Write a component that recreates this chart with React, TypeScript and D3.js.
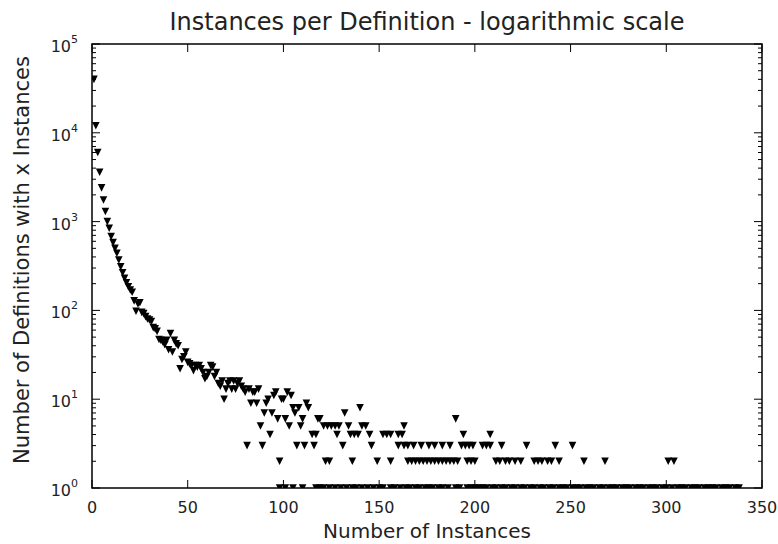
import React from "react";
import * as d3 from "d3";

// ---- data: number of instances (x) and number of definitions with x instances (y)
const instances: number[] = [
  1, 2, 3, 4, 5, 6, 7, 8, 9, 10, 11, 12, 13, 14, 15, 16, 17, 18, 19, 20,
  21, 22, 23, 24, 25, 26, 27, 28, 29, 30, 31, 32, 33, 34, 35, 36, 37, 38, 39, 40,
  41, 42, 43, 44, 45, 46, 47, 48, 49, 50, 51, 52, 53, 54, 55, 56, 57, 58, 59, 60,
  61, 62, 63, 64, 65, 66, 67, 68, 69, 70, 71, 72, 73, 74, 75, 76, 77, 78, 79, 80,
  81, 82, 83, 84, 85, 86, 87, 88, 89, 90, 91, 92, 93, 94, 95, 96, 97, 98, 99, 100,
  101, 102, 103, 104, 105, 106, 107, 108, 109, 110, 111, 112, 113, 115, 116, 117, 118, 119, 121, 122,
  123, 124, 125, 127, 129, 128, 131, 132, 134, 135, 136, 137, 139, 140, 141, 143, 145, 146, 149, 152,
  154, 156, 156, 160, 160, 162, 163, 163, 165, 165, 167, 168, 169, 171, 172, 173, 175, 176, 177, 179,
  179, 181, 183, 183, 185, 187, 187, 189, 190, 191, 193, 194, 195, 196, 197, 198, 199, 200, 204, 206,
  208, 208, 211, 213, 214, 216, 218, 221, 224, 227, 231, 233, 235, 238, 240, 242, 244, 251, 257, 268,
  301, 304
];
const definitions: number[] = [
  40000, 12000, 6000, 3600, 2400, 1750, 1300, 1000, 840, 680, 580, 500, 440, 370, 310, 265, 230, 205, 185, 170,
  160, 128, 98, 118, 122, 95, 92, 85, 80, 78, 75, 64, 62, 58, 47, 46, 44, 41, 46, 36,
  55, 34, 46, 42, 40, 22, 28, 30, 34, 26, 25, 24, 21, 24, 23, 24, 22, 20, 17, 18,
  20, 24, 23, 18, 20, 15, 14, 16, 10, 13, 15, 16, 13, 16, 13, 15, 16, 14, 13, 12,
  3, 13, 9, 12, 12, 9, 13, 5, 3, 7, 9, 10, 4, 7, 11, 12, 6, 2, 10, 10,
  6, 12, 5, 11, 8, 7, 3, 8, 5, 6, 3, 9, 8, 4, 3, 4, 6, 6, 5, 2,
  5, 2, 5, 5, 5, 4, 3, 7, 5, 4, 2, 4, 4, 8, 5, 5, 4, 3, 2, 4,
  4, 4, 2, 3, 4, 4, 5, 3, 3, 2, 2, 3, 2, 2, 3, 2, 2, 3, 2, 3,
  2, 2, 3, 2, 2, 3, 2, 2, 6, 2, 3, 4, 3, 2, 3, 2, 3, 2, 3, 3,
  3, 4, 2, 2, 3, 2, 2, 2, 2, 3, 2, 2, 2, 2, 2, 3, 2, 3, 2, 2,
  2, 2
];
// x values that have exactly one definition (drawn on the bottom spine)
const singleInstances: number[] = [
  98, 101, 105, 110, 117, 119, 121, 124, 127, 130, 133, 136, 138, 141, 144, 147, 150, 152, 156, 158, 161, 164,
  166, 169, 171, 174, 176, 178, 181, 183, 186, 190, 192, 196, 198, 200, 202, 204, 206, 209, 211, 214,
  216, 219, 221, 224, 226, 229, 231, 234, 236, 239, 241, 244, 246, 248, 251, 253, 255, 258, 260, 262,
  265, 267, 270, 272, 274, 277, 279, 281, 284, 286, 288, 291, 293, 295, 298, 300, 303, 306, 308, 310,
  313, 315, 317, 320, 322, 324, 326, 329, 331, 333, 336, 338
];
const xTicks: number[] = [0, 50, 100, 150, 200, 250, 300, 350];
const yExponents: number[] = [0, 1, 2, 3, 4, 5];

const title = "Instances per Definition - logarithmic scale";
const xLabel = "Number of Instances";
const yLabel = "Number of Definitions with x Instances";

export default function App() {
  const W = 778, H = 544;
  const m = { left: 92, right: 762, top: 44, bottom: 488 };
  const x = d3.scaleLinear().domain([0, 350]).range([m.left, m.right]);
  const y = d3.scaleLog().domain([1, 1e5]).range([m.bottom, m.top]);
  const font = "'DejaVu Sans', sans-serif";

  const pts = instances.map((v, i) => [v, definitions[i]] as [number, number])
    .concat(singleInstances.map((v) => [v, 1] as [number, number]));
  const r = 3.8;
  const tri = `M${-r},${-r}L${r},${-r}L0,${r}Z`;

  const minor: number[] = [];
  for (let e = 0; e < 5; e++) for (let k = 2; k <= 9; k++) minor.push(k * Math.pow(10, e));

  return (
    <svg width={W} height={H} style={{ position: "absolute", left: 0, top: 0, background: "#fff" }}>
      <defs>
        <clipPath id="plotclip">
          <rect x={m.left} y={m.top} width={m.right - m.left} height={m.bottom - m.top} />
        </clipPath>
      </defs>
      <rect x={0} y={0} width={W} height={H} fill="#fff" />
      <g clipPath="url(#plotclip)">
        {pts.map(([a, b], i) => (
          <path key={i} d={tri} transform={`translate(${x(a)},${y(b)})`} fill="#000" />
        ))}
      </g>
      {/* ticks */}
      <g stroke="#000" strokeWidth={1}>
        {xTicks.map((t) => (
          <g key={t}>
            <line x1={x(t)} x2={x(t)} y1={m.bottom} y2={m.bottom - 8} />
            <line x1={x(t)} x2={x(t)} y1={m.top} y2={m.top + 8} />
          </g>
        ))}
        {yExponents.map((e) => (
          <g key={e}>
            <line x1={m.left} x2={m.left + 8} y1={y(Math.pow(10, e))} y2={y(Math.pow(10, e))} />
            <line x1={m.right} x2={m.right - 8} y1={y(Math.pow(10, e))} y2={y(Math.pow(10, e))} />
          </g>
        ))}
        {minor.map((v) => (
          <g key={v}>
            <line x1={m.left} x2={m.left + 4} y1={y(v)} y2={y(v)} />
            <line x1={m.right} x2={m.right - 4} y1={y(v)} y2={y(v)} />
          </g>
        ))}
      </g>
      <rect x={m.left} y={m.top} width={m.right - m.left} height={m.bottom - m.top}
        fill="none" stroke="#000" strokeWidth={1.5} />
      {/* tick labels */}
      <g fontFamily={font} fontSize={16} fill="#222">
        {xTicks.map((t) => (
          <text key={t} x={x(t)} y={m.bottom + 25} textAnchor="middle">{t}</text>
        ))}
        {yExponents.map((e) => (
          <text key={e} x={m.left - 14} y={y(Math.pow(10, e)) + 8} textAnchor="end">
            10
            <tspan fontSize={11} dy={-9}>{e}</tspan>
          </text>
        ))}
      </g>
      <text x={(m.left + m.right) / 2} y={30} textAnchor="middle" fontFamily={font} fontSize={24} fill="#222">{title}</text>
      <text x={(m.left + m.right) / 2} y={538} textAnchor="middle" fontFamily={font} fontSize={20} fill="#222">{xLabel}</text>
      <text transform={`translate(29,${(m.top + m.bottom) / 2 - 6}) rotate(-90)`} textAnchor="middle" fontFamily={font} fontSize={21} fill="#222">{yLabel}</text>
    </svg>
  );
}
